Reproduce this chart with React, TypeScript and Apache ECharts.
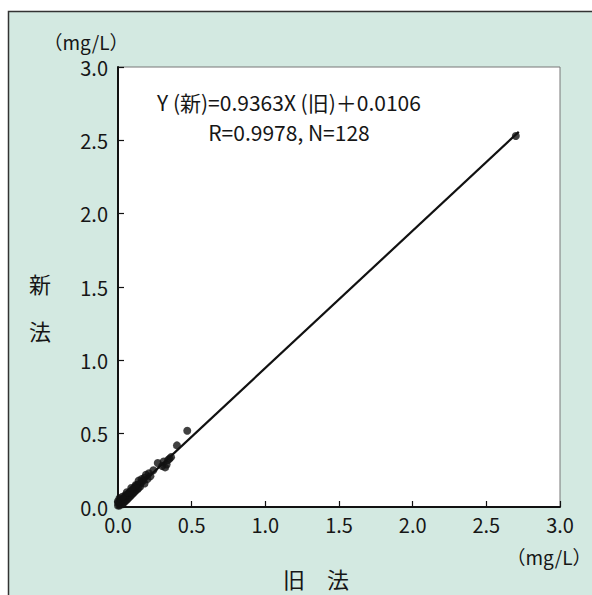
import React, { useEffect, useRef } from "react";
import * as echarts from "echarts";

const xTicks = ["0.0", "0.5", "1.0", "1.5", "2.0", "2.5", "3.0"];
const oldMethod = [
  0.01, 0.01, 0.02, 0.02, 0.03, 0.03, 0.04, 0.04, 0.05, 0.05, 0.06, 0.06, 0.07, 0.07,
  0.08, 0.08, 0.09, 0.09, 0.1, 0.1, 0.11, 0.11, 0.12, 0.12, 0.13, 0.13, 0.14, 0.15,
  0.15, 0.16, 0.17, 0.18, 0.18, 0.19, 0.2, 0.21, 0.22, 0.24, 0.27, 0.3, 0.31, 0.33,
  0.34, 0.35, 0.36, 0.4, 0.47, 2.7, 0.0, 0.0, 0.02, 0.05, 0.08, 0.12, 0.16,
  0.0, 0.01, 0.03, 0.06, 0.09, 0.14, 0.32,
];
const newMethod = [
  0.01, 0.03, 0.02, 0.04, 0.02, 0.05, 0.03, 0.06, 0.04, 0.07, 0.05, 0.08, 0.06, 0.09,
  0.07, 0.1, 0.08, 0.11, 0.09, 0.12, 0.1, 0.13, 0.11, 0.14, 0.12, 0.15, 0.13, 0.16,
  0.14, 0.17, 0.18, 0.16, 0.2, 0.22, 0.19, 0.23, 0.21, 0.25, 0.3, 0.28, 0.31, 0.29,
  0.32, 0.33, 0.34, 0.42, 0.52, 2.53, 0.01, 0.03, 0.05, 0.08, 0.1, 0.15, 0.19,
  0.04, 0.06, 0.07, 0.1, 0.13, 0.18, 0.27,
];
const fitX = [0, 2.72];
const fitY = [0.011, 2.558];
const equationLines = ["Y (新)=0.9363X (旧)＋0.0106", "R=0.9978, N=128"];

const FONT = "'Noto Sans CJK JP', 'Noto Sans', sans-serif";
const INK = "#161616";

export default function App() {
  const ref = useRef<HTMLDivElement>(null);
  useEffect(() => {
    if (!ref.current) return;
    const chart = echarts.init(ref.current, null, { renderer: "svg" });
    const axisCommon = {
      type: "value",
      min: 0,
      max: 3,
      interval: 0.5,
      axisLine: { show: true, onZero: false, lineStyle: { color: "#111", width: 2 } },
      axisTick: { show: true, inside: true, length: 6, lineStyle: { color: "#111", width: 1.2 } },
      splitLine: { show: false },
    };
    chart.setOption({
      animation: false,
      backgroundColor: "#ffffff",
      grid: {
        left: 118,
        top: 67,
        width: 442,
        height: 440,
        show: true,
        backgroundColor: "#ffffff",
        borderColor: "#777",
        borderWidth: 1,
      },
      xAxis: {
        ...axisCommon,
        axisLabel: {
          color: INK,
          fontSize: 20,
          fontFamily: FONT,
          margin: 7,
          formatter: (v: number) => xTicks[Math.round(v * 2)] ?? v.toFixed(1),
        },
      },
      yAxis: {
        ...axisCommon,
        axisLabel: {
          color: INK,
          fontSize: 20,
          fontFamily: FONT,
          margin: 10,
          formatter: (v: number) => xTicks[Math.round(v * 2)] ?? v.toFixed(1),
        },
      },
      graphic: [
        {
          type: "rect",
          z: -10,
          silent: true,
          shape: { x: 8.5, y: 11.5, width: 600, height: 600 },
          style: { fill: "#d3e9e1", stroke: "#333", lineWidth: 1.5 },
        },
        {
          type: "text",
          x: 86,
          y: 41,
          style: { text: "（mg/L）", fontSize: 19, fontFamily: FONT, fill: INK, align: "center", verticalAlign: "middle" },
        },
        {
          type: "text",
          x: 549,
          y: 556,
          style: { text: "（mg/L）", fontSize: 19, fontFamily: FONT, fill: INK, align: "center", verticalAlign: "middle" },
        },
        {
          type: "text",
          x: 316,
          y: 578,
          style: { text: "旧　法", fontSize: 22, fontFamily: FONT, fill: INK, align: "center", verticalAlign: "middle" },
        },
        {
          type: "text",
          x: 40,
          y: 283,
          style: { text: "新", fontSize: 22, fontFamily: FONT, fill: INK, align: "center", verticalAlign: "middle" },
        },
        {
          type: "text",
          x: 40,
          y: 330,
          style: { text: "法", fontSize: 22, fontFamily: FONT, fill: INK, align: "center", verticalAlign: "middle" },
        },
        {
          type: "text",
          x: 289,
          y: 117,
          style: {
            text: equationLines.join("\n"),
            fontSize: 21,
            lineHeight: 30,
            fontFamily: FONT,
            fill: INK,
            align: "center",
            verticalAlign: "middle",
          },
        },
      ],
      series: [
        {
          type: "line",
          data: fitX.map((x, i) => [x, fitY[i]]),
          symbol: "none",
          lineStyle: { color: "#111", width: 2.2 },
          z: 3,
        },
        {
          type: "scatter",
          data: oldMethod.map((x, i) => [x, newMethod[i]]),
          symbolSize: 8,
          itemStyle: { color: "#111" },
          z: 4,
        },
      ],
    });
    return () => chart.dispose();
  }, []);
  return (
    <div
      ref={ref}
      style={{ position: "fixed", left: 0, top: 0, width: 592, height: 595 }}
    />
  );
}
